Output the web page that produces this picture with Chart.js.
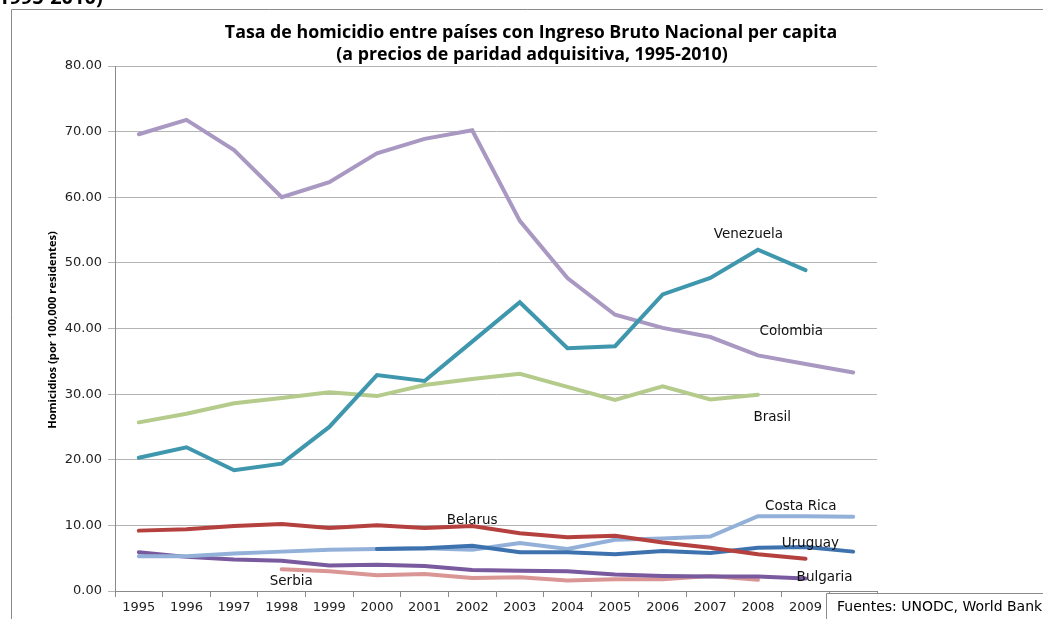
<!DOCTYPE html>
<html>
<head>
<meta charset="utf-8">
<script src="https://cdn.jsdelivr.net/npm/chart.js@4"></script>
<style>
  html, body { margin: 0; padding: 0; background: #fff; }
  #wrap { width: 1043px; height: 619px; position: relative; }
</style>
</head>
<body>
<div id="wrap"><canvas id="homicideChart" width="1043" height="619"></canvas></div>
<script>
// Data
const years = ["1995", "1996", "1997", "1998", "1999", "2000", "2001", "2002", "2003", "2004", "2005", "2006", "2007", "2008", "2009", "2010"];
const colombia = [69.6, 71.8, 67.2, 60.0, 62.3, 66.7, 68.9, 70.2, 56.4, 47.7, 42.1, 40.1, 38.7, 35.9, 34.6, 33.3];
const venezuela = [20.3, 21.9, 18.4, 19.4, 25.0, 32.9, 32.0, 38.0, 44.0, 37.0, 37.3, 45.2, 47.7, 52.0, 48.9, null];
const brasil = [25.7, 27.0, 28.6, 29.4, 30.3, 29.7, 31.4, 32.3, 33.1, 31.1, 29.1, 31.2, 29.2, 29.9, null, null];
const belarus = [9.2, 9.4, 9.9, 10.2, 9.6, 10.0, 9.6, 9.9, 8.8, 8.2, 8.4, 7.4, 6.6, 5.6, 4.9, null];
const costaRica = [5.3, 5.3, 5.7, 6.0, 6.3, 6.4, 6.5, 6.3, 7.3, 6.4, 7.8, 8.0, 8.3, 11.4, 11.4, 11.3];
const uruguay = [null, null, null, null, null, 6.4, 6.5, 6.9, 5.9, 5.9, 5.6, 6.1, 5.8, 6.6, 6.7, 6.0];
const bulgaria = [5.9, 5.2, 4.8, 4.6, 3.9, 4.0, 3.8, 3.2, 3.1, 3.0, 2.5, 2.3, 2.2, 2.2, 1.9, null];
const serbia = [null, null, null, 3.3, 3.0, 2.4, 2.6, 2.0, 2.1, 1.6, 1.8, 1.8, 2.3, 1.7, null, null];
const yTicks = [0, 10, 20, 30, 40, 50, 60, 70, 80];

// Series names placed next to the lines (category index, value)
const seriesLabels = [
    { text: "Venezuela", at: 12.8, value: 54.4 },
    { text: "Colombia", at: 13.7, value: 39.5 },
    { text: "Brasil", at: 13.3, value: 26.4 },
    { text: "Belarus", at: 7.0, value: 10.8 },
    { text: "Costa Rica", at: 13.9, value: 12.9 },
    { text: "Uruguay", at: 14.1, value: 7.3 },
    { text: "Serbia", at: 3.2, value: 1.5 },
    { text: "Bulgaria", at: 14.4, value: 2.0 }
];

const tickFont = { family: "'DejaVu Sans', sans-serif", size: 13 };

function series(label, data, color) {
    return {
        label: label,
        data: data,
        borderColor: color,
        backgroundColor: color,
        borderWidth: 4,
        pointRadius: 0,
        tension: 0,
        spanGaps: false,
        borderJoinStyle: 'miter',
        borderCapStyle: 'round',
        fill: false
    };
}

// frame, titles, labels and the source box
const decorPlugin = {
    id: 'decor',
    beforeDraw(chart) {
        const ctx = chart.ctx;
        ctx.save();
        ctx.fillStyle = '#fff';
        ctx.fillRect(0, 0, chart.width, chart.height);
        ctx.strokeStyle = '#8a8a8a';
        ctx.lineWidth = 1;
        ctx.beginPath();
        ctx.moveTo(11.5, 619);
        ctx.lineTo(11.5, 9.5);
        ctx.lineTo(1043, 9.5);
        ctx.stroke();

        // cut-off heading above the frame
        ctx.fillStyle = '#000';
        ctx.font = "bold 20px 'Open Sans', sans-serif";
        ctx.textAlign = 'left';
        ctx.textBaseline = 'alphabetic';
        ctx.fillText("1995-2010)", -2, 4);

        ctx.textAlign = 'center';
        ctx.font = "bold 17.8px 'Open Sans', sans-serif";
        ctx.fillText("Tasa de homicidio entre países con Ingreso Bruto Nacional per capita", 531, 38);
        ctx.fillText("(a precios de paridad adquisitiva, 1995-2010)", 532, 60);

        ctx.translate(53, 330);
        ctx.rotate(-Math.PI / 2);
        ctx.font = "bold 11.2px 'Open Sans', sans-serif";
        ctx.textBaseline = 'middle';
        ctx.fillText("Homicidios (por 100,000 residentes)", 0, 0);
        ctx.restore();
    },
    afterDraw(chart) {
        const ctx = chart.ctx;
        const x = chart.scales.x;
        const y = chart.scales.y;
        ctx.save();
        ctx.fillStyle = '#111';
        ctx.font = "13.5px 'DejaVu Sans', sans-serif";
        ctx.textAlign = 'center';
        ctx.textBaseline = 'middle';
        seriesLabels.forEach(l => {
            ctx.fillText(l.text, x.getPixelForValue(l.at), y.getPixelForValue(l.value));
        });

        ctx.fillStyle = '#fff';
        ctx.fillRect(826, 593, 230, 30);
        ctx.strokeStyle = '#8a8a8a';
        ctx.lineWidth = 1;
        ctx.beginPath();
        ctx.moveTo(826.5, 619);
        ctx.lineTo(826.5, 593.5);
        ctx.lineTo(1043, 593.5);
        ctx.stroke();
        ctx.fillStyle = '#000';
        ctx.textAlign = 'left';
        ctx.font = "14px 'DejaVu Sans', sans-serif";
        ctx.fillText("Fuentes: UNODC, World Bank", 837, 607);
        ctx.restore();
    }
};

const ctx = document.getElementById('homicideChart').getContext('2d');
new Chart(ctx, {
    type: 'line',
    data: {
        labels: years,
        datasets: [
            series('Belarus', belarus, '#B5413E'),
            series('Uruguay', uruguay, '#3E72AE'),
            series('Costa Rica', costaRica, '#93B1D8'),
            series('Bulgaria', bulgaria, '#7A5A9E'),
            series('Serbia', serbia, '#D99694'),
            series('Venezuela', venezuela, '#3F97AE'),
            series('Brasil', brasil, '#B4CB8C'),
            series('Colombia', colombia, '#A898C2')
        ]
    },
    options: {
        responsive: false,
        animation: false,
        layout: {
            padding: { left: 0, top: 66, right: 166, bottom: 0 }
        },
        plugins: {
            legend: { display: false },
            tooltip: { enabled: false },
            title: { display: false }
        },
        scales: {
            x: {
                offset: true,
                afterFit(scale) { scale.height = 28; },
                ticks: {
                    font: tickFont,
                    color: '#222',
                    padding: 3,
                    maxRotation: 0,
                    autoSkip: false
                },
                grid: {
                    offset: true,
                    drawOnChartArea: false,
                    tickLength: 6,
                    color: '#8a8a8a'
                },
                border: { color: '#8a8a8a' }
            },
            y: {
                min: 0,
                max: 80,
                afterFit(scale) { scale.width = 115; },
                afterBuildTicks(scale) {
                    scale.ticks = yTicks.map(v => ({ value: v }));
                },
                ticks: {
                    font: tickFont,
                    color: '#222',
                    padding: 6,
                    callback: v => v.toFixed(2)
                },
                grid: {
                    color: '#b4b4b4',
                    tickLength: 7
                },
                border: { color: '#8a8a8a' }
            }
        }
    },
    plugins: [decorPlugin]
});
</script>
</body>
</html>
